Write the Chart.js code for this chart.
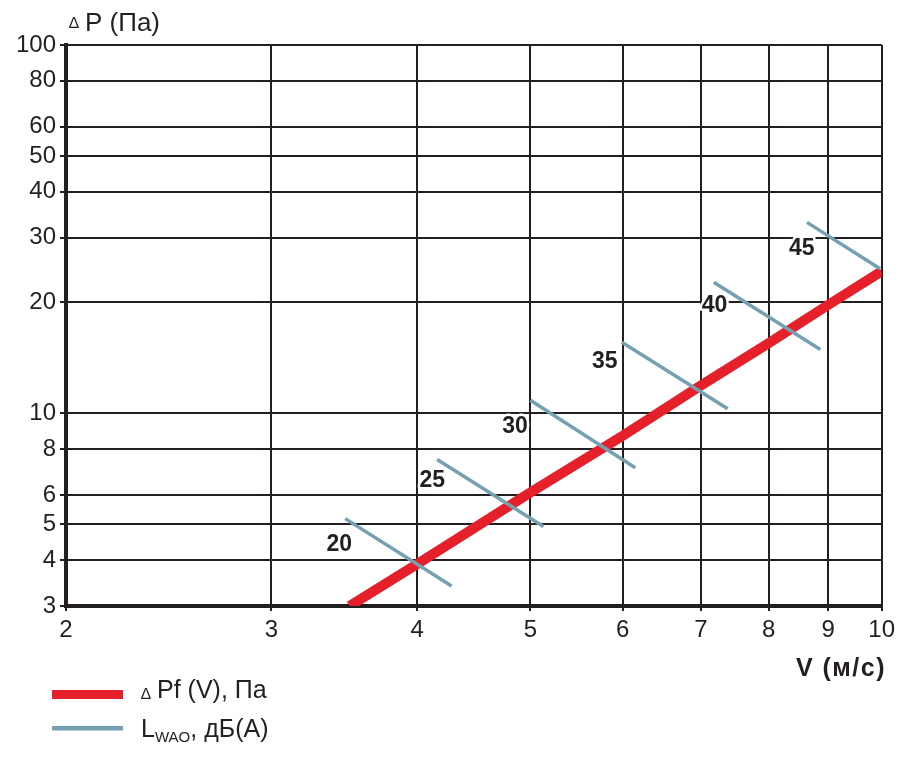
<!DOCTYPE html>
<html>
<head>
<meta charset="utf-8">
<script src="https://cdn.jsdelivr.net/npm/chart.js@4"></script>
<style>
  html, body { margin: 0; padding: 0; background: #fff; }
  canvas { display: block; }
</style>
</head>
<body>
<canvas id="chart" width="900" height="759"></canvas>
<script>
// velocity (m/s) and pressure drop (Pa) along the red curve
const speedV = [3.5, 4, 5, 6, 7, 8, 9, 10];
const pressureP = [3.0, 3.9, 6.1, 8.7, 11.9, 15.5, 19.7, 24.3];

// sound power level lines, dB(A)
const noiseLevels = [20, 25, 30, 35, 40, 45];
const noiseStartV = [3.47, 4.16, 5.0, 5.99, 7.18, 8.63];
const noiseStartP = [5.18, 7.5, 10.85, 15.6, 22.7, 33.0];
const noiseEndV = [4.28, 5.13, 6.15, 7.38, 8.86, 9.97];
const noiseEndP = [3.4, 4.93, 7.12, 10.3, 14.9, 24.7];
const labelV = [3.43, 4.12, 4.85, 5.79, 7.19, 8.54];
const labelP = [4.4, 6.55, 9.2, 13.8, 19.6, 28.0];

const xTicks = [2, 3, 4, 5, 6, 7, 8, 9, 10];
const yTicks = [3, 4, 5, 6, 8, 10, 20, 30, 40, 50, 60, 80, 100];

const RED = "#e5202a";
const BLUE = "#74a0b2";
const INK = "#231f20";
const FONT = "'Liberation Sans', Arial, Helvetica, sans-serif";

Chart.defaults.font.family = FONT;
Chart.defaults.color = INK;

const datasets = [{
    label: "ΔPf (V), Па",
    data: speedV.map((v, i) => ({ x: v, y: pressureP[i] })),
    borderColor: RED,
    borderWidth: 10,
    pointRadius: 0,
    showLine: true,
    borderCapStyle: "butt",
    order: 2
}];

noiseLevels.forEach((lvl, i) => {
    datasets.push({
        label: "L " + lvl,
        data: [
            { x: noiseStartV[i], y: noiseStartP[i] },
            { x: noiseEndV[i], y: noiseEndP[i] }
        ],
        borderColor: BLUE,
        borderWidth: 3.5,
        pointRadius: 0,
        showLine: true,
        order: 1
    });
});

const textPlugin = {
    id: "texts",
    afterDatasetsDraw(chart) {
        const c = chart.ctx;
        const xs = chart.scales.x, ys = chart.scales.y;
        c.save();
        c.font = "bold 23px " + FONT;
        c.textAlign = "center";
        c.textBaseline = "middle";
        c.lineJoin = "round";
        noiseLevels.forEach((lvl, i) => {
            const px = xs.getPixelForValue(labelV[i]);
            const py = ys.getPixelForValue(labelP[i]);
            c.strokeStyle = "#fff";
            c.lineWidth = 5;
            c.strokeText(String(lvl), px, py);
            c.fillStyle = INK;
            c.fillText(String(lvl), px, py);
        });
        c.restore();
    },
    afterDraw(chart) {
        const c = chart.ctx;
        c.save();
        c.fillStyle = INK;
        c.textBaseline = "alphabetic";

        // y axis title
        c.font = "16px " + FONT;
        c.fillText("∆", 69, 28);
        c.font = "26px " + FONT;
        c.fillText("P (Па)", 85, 31);

        // x axis title
        c.font = "bold 25px " + FONT;
        c.textAlign = "right";
        c.letterSpacing = "1.5px";
        c.fillText("V (м/с)", 886, 676);
        c.letterSpacing = "0px";
        c.textAlign = "left";

        // legend
        c.fillStyle = RED;
        c.fillRect(52, 690, 71, 9);
        c.fillStyle = BLUE;
        c.fillRect(52, 726, 71, 4.5);

        c.fillStyle = INK;
        c.font = "16px " + FONT;
        c.fillText("∆", 141, 699);
        c.font = "25px " + FONT;
        c.fillText("Pf (V), Па", 157, 698);

        c.fillText("L", 141, 737);
        c.font = "15px " + FONT;
        c.fillText("WAO", 155, 742);
        let w = c.measureText("WAO").width;
        c.font = "25px " + FONT;
        c.fillText(", дБ(A)", 155 + w, 737);
        c.restore();
    }
};

new Chart(document.getElementById("chart"), {
    type: "scatter",
    data: { datasets: datasets },
    options: {
        responsive: false,
        animation: false,
        devicePixelRatio: 1,
        layout: { padding: { left: 0, top: 45, right: 17, bottom: 0 } },
        plugins: {
            legend: { display: false },
            tooltip: { enabled: false }
        },
        scales: {
            x: {
                type: "logarithmic",
                min: 2,
                max: 10,
                afterBuildTicks: (s) => { s.ticks = xTicks.map(v => ({ value: v })); },
                afterFit: (s) => { s.height = 153; },
                ticks: {
                    callback: (v) => String(v),
                    font: { size: 24 },
                    color: INK,
                    padding: 5,
                    maxRotation: 0,
                    autoSkip: false
                },
                grid: { color: INK, lineWidth: 2, tickLength: 5, tickColor: INK },
                border: { display: true, color: INK, width: 4 }
            },
            y: {
                type: "logarithmic",
                min: 3,
                max: 100,
                afterBuildTicks: (s) => { s.ticks = yTicks.map(v => ({ value: v })); },
                afterFit: (s) => { s.width = 66; },
                ticks: {
                    callback: (v) => String(v),
                    font: { size: 24 },
                    color: INK,
                    padding: 4,
                    autoSkip: false
                },
                grid: { color: INK, lineWidth: 2, tickLength: 6, tickColor: INK },
                border: { display: true, color: INK, width: 4 }
            }
        }
    },
    plugins: [textPlugin]
});
</script>
</body>
</html>
